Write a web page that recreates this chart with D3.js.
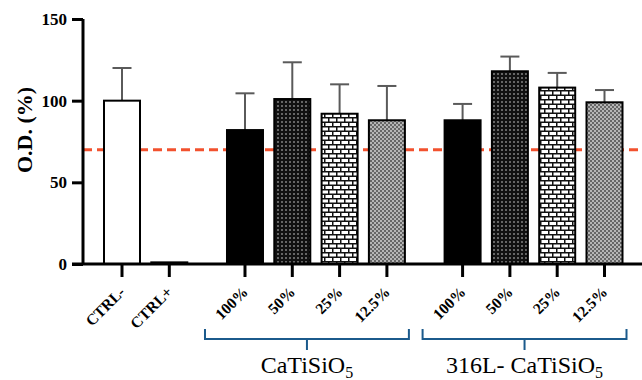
<!DOCTYPE html>
<html lang="en">
  <head>
    <meta charset="utf-8">
    <title>O.D. bars</title>
    <script src="https://d3js.org/d3.v7.min.js"></script>
    <style>
      body { margin: 0; background: #fff; }
      svg text { font-family: "Liberation Serif", "Times New Roman", Times, serif; }
    </style>
  </head>
  <body>
    <svg id="chart" width="642" height="380"></svg>

    <script type="text/javascript">
    // data
    var categories = ["CTRL-", "CTRL+", "100%", "50%", "25%", "12.5%", "100%", "50%", "25%", "12.5%"];
    var groupIndex = [0, 0, 1, 1, 1, 1, 2, 2, 2, 2];
    var values = [100, 1, 82, 101, 92, 88, 88, 118, 108, 99];
    var errTop = [120, null, 104.5, 123.5, 110, 109, 98, 127, 117, 106.5];
    var groupNames = [null, "CaTiSiO", "316L- CaTiSiO"];
    var yTicks = [0, 50, 100, 150];
    var cutoff = 70;

    var serif = "Liberation Serif";
    var svg = d3.select("#chart");

    // patterns for the bar fills
    var defs = svg.append("defs");
    var dots = defs.append("pattern").attr("id", "dots")
      .attr("patternUnits", "userSpaceOnUse").attr("width", 4).attr("height", 4);
    dots.append("rect").attr("width", 4).attr("height", 4).attr("fill", "#111");
    dots.append("rect").attr("x", 1).attr("y", 1).attr("width", 2).attr("height", 2).attr("fill", "#666");

    var brick = defs.append("pattern").attr("id", "brick")
      .attr("patternUnits", "userSpaceOnUse").attr("width", 8).attr("height", 9);
    brick.append("rect").attr("width", 8).attr("height", 9).attr("fill", "#fff");
    brick.append("path")
      .attr("d", "M0,0.75H8M0,5.25H8M0.75,0V4.5M4.75,4.5V9")
      .attr("stroke", "#111").attr("stroke-width", 1.5);

    var check = defs.append("pattern").attr("id", "check")
      .attr("patternUnits", "userSpaceOnUse").attr("width", 4).attr("height", 4);
    check.append("rect").attr("width", 4).attr("height", 4).attr("fill", "#666");
    check.append("rect").attr("width", 2).attr("height", 2).attr("fill", "#b5b5b5");
    check.append("rect").attr("x", 2).attr("y", 2).attr("width", 2).attr("height", 2).attr("fill", "#b5b5b5");

    var fillFor = {"CTRL-": "#fff", "CTRL+": "#fff", "100%": "#000",
      "50%": "url(#dots)", "25%": "url(#brick)", "12.5%": "url(#check)"};

    // scales
    var y = d3.scaleLinear().domain([0, 150]).range([264, 19]);
    var slot = function(i) { return i + 0.6 * groupIndex[i]; };
    var x = d3.scaleLinear().domain([0, slot(categories.length - 1)]).range([122, 604.5]);
    var barW = 36;

    // cutoff line (drawn under the bars)
    svg.append("line")
      .attr("x1", 83).attr("x2", 642)
      .attr("y1", y(cutoff)).attr("y2", y(cutoff))
      .attr("stroke", "#f2512e").attr("stroke-width", 3)
      .attr("stroke-dasharray", "9,5");

    // error bars
    var err = svg.append("g").selectAll("g")
      .data(categories.map(function(c, i) { return i; }).filter(function(i) { return errTop[i] != null; }))
      .enter().append("g").attr("stroke", "#5a5a5a").attr("stroke-width", 2);
    err.append("line")
      .attr("x1", function(i) { return x(slot(i)); })
      .attr("x2", function(i) { return x(slot(i)); })
      .attr("y1", function(i) { return y(values[i]); })
      .attr("y2", function(i) { return y(errTop[i]); });
    err.append("line")
      .attr("x1", function(i) { return x(slot(i)) - 9.5; })
      .attr("x2", function(i) { return x(slot(i)) + 9.5; })
      .attr("y1", function(i) { return y(errTop[i]); })
      .attr("y2", function(i) { return y(errTop[i]); });

    // bars
    svg.append("g").selectAll("rect")
      .data(values)
      .enter().append("rect")
      .attr("x", function(d, i) { return x(slot(i)) - barW / 2; })
      .attr("y", function(d) { return y(d); })
      .attr("width", barW)
      .attr("height", function(d) { return y(0) - y(d); })
      .attr("fill", function(d, i) { return fillFor[categories[i]]; })
      .attr("stroke", "#000")
      .attr("stroke-width", 2);

    // y axis
    var yAxis = svg.append("g")
      .attr("transform", "translate(83,0)")
      .call(d3.axisLeft(y).tickValues(yTicks).tickSize(11).tickPadding(5));
    yAxis.attr("font-family", serif);
    yAxis.select(".domain").attr("stroke-width", 3).attr("d", "M0," + y(150) + "V" + y(0));
    yAxis.selectAll(".tick line").attr("stroke-width", 3);
    yAxis.selectAll(".tick text")
      .attr("font-weight", "bold").attr("font-size", 17).attr("fill", "#000");

    // x axis line and ticks
    svg.append("line")
      .attr("x1", 72).attr("x2", 642).attr("y1", y(0)).attr("y2", y(0))
      .attr("stroke", "#000").attr("stroke-width", 3);
    svg.append("g").selectAll("line")
      .data(categories)
      .enter().append("line")
      .attr("x1", function(d, i) { return x(slot(i)); })
      .attr("x2", function(d, i) { return x(slot(i)); })
      .attr("y1", y(0)).attr("y2", y(0) + 13)
      .attr("stroke", "#000").attr("stroke-width", 3);

    // category labels
    svg.append("g").selectAll("text")
      .data(categories)
      .enter().append("text")
      .attr("transform", function(d, i) {
        return "translate(" + (x(slot(i)) + 4) + ",293) rotate(-45)";
      })
      .attr("text-anchor", "end")
      .attr("font-family", serif)
      .attr("font-weight", "bold").attr("font-size", 15.5)
      .text(function(d) { return d; });

    // y title
    svg.append("text")
      .attr("transform", "translate(32,130) rotate(-90)")
      .attr("text-anchor", "middle")
      .attr("font-family", serif)
      .attr("font-weight", "bold").attr("font-size", 22)
      .text("O.D. (%)");

    // group braces and names
    [1, 2].forEach(function(g) {
      var idx = categories.map(function(c, i) { return i; }).filter(function(i) { return groupIndex[i] === g; });
      var x0 = x(slot(idx[0])) - 40, x1 = x(slot(idx[idx.length - 1])) + 22;
      var xm = (x0 + x1) / 2;
      svg.append("path")
        .attr("d", "M" + x0 + ",329V339H" + x1 + "V329M" + xm + ",339V350")
        .attr("fill", "none").attr("stroke", "#1b5a8c").attr("stroke-width", 2);
      var t = svg.append("text")
        .attr("x", xm).attr("y", 373)
        .attr("text-anchor", "middle")
        .attr("font-family", serif).attr("font-size", 24);
      t.append("tspan").text(groupNames[g]);
      t.append("tspan").attr("dy", 5).attr("font-size", 16).text("5");
    });
    </script>
  </body>
</html>
